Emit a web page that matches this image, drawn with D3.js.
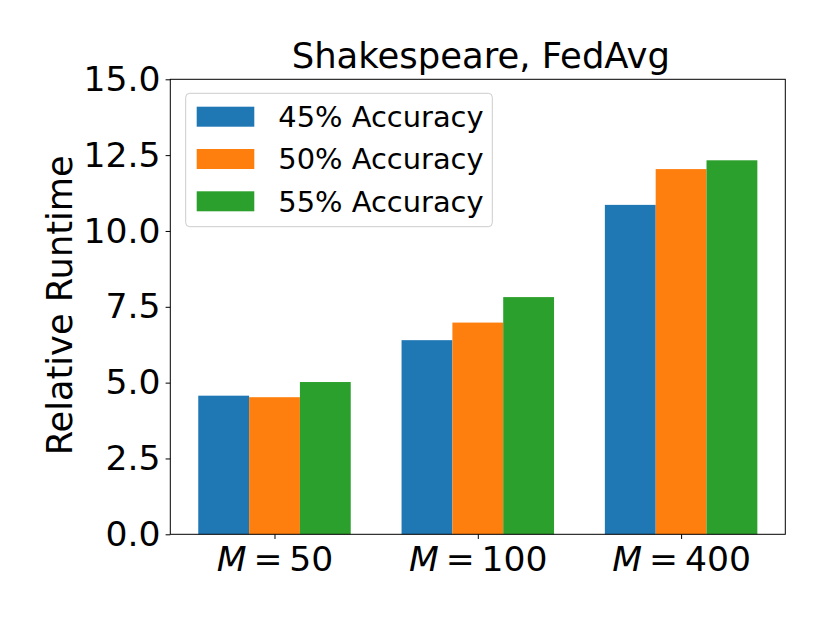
<!DOCTYPE html>
<html>
<head>
<meta charset="utf-8">
<script src="https://cdn.jsdelivr.net/npm/d3@7"></script>
<style>
  body { margin: 0; background: #fff; }
  text { font-family: "DejaVu Sans", sans-serif; fill: #000; }
</style>
</head>
<body>
<div id="bar-chart"></div>
<script>
// data
const groups = ["50", "100", "400"];
const seriesNames = ["45% Accuracy", "50% Accuracy", "55% Accuracy"];
const acc45 = [4.57, 6.40, 10.86];
const acc50 = [4.52, 6.98, 12.04];
const acc55 = [5.02, 7.82, 12.33];
const yTicks = [0, 2.5, 5, 7.5, 10, 12.5, 15];
const colors = ["#1f77b4", "#ff7f0e", "#2ca02c"];

const series = [acc45, acc50, acc55];

let drawChart = () => {
  // clear before repainting
  d3.select('#bar-chart').select('svg').remove();

  let margin = {top: 79.3, right: 44.7, bottom: 88.7, left: 170.3},
    width = 830 - margin.left - margin.right,
    height = 623 - margin.top - margin.bottom;

  let svg = d3.select('#bar-chart')
    .append('svg')
    .attr('width', 830)
    .attr('height', 623)
    .append('g')
    .attr('transform', 'translate(' + margin.left + ',' + margin.top + ')');

  const barW = 0.25;

  // x like matplotlib: groups at 0,1,2 with 5% margins
  let x = d3.scaleLinear()
    .domain([-0.5125, 2.5125])
    .range([0, width]);

  let y = d3.scaleLinear()
    .domain([0, 15])
    .range([height, 0]);

  // bars
  series.forEach(function(vals, j) {
    svg.append('g')
      .selectAll('rect')
      .data(vals)
      .enter()
      .append('rect')
      .attr('x', function(d, i) { return x(i + (j - 1) * barW - barW / 2); })
      .attr('width', x(barW) - x(0))
      .attr('y', function(d) { return y(d); })
      .attr('height', function(d) { return y(0) - y(d); })
      .attr('fill', colors[j]);
  });

  // Y axis
  let yAxis = svg.append('g')
    .call(d3.axisLeft(y)
      .tickValues(yTicks)
      .tickFormat(d3.format('.1f'))
      .tickSize(4.7)
      .tickPadding(5));
  yAxis.select('.domain').remove();
  yAxis.selectAll('line').attr('stroke', '#000').attr('stroke-width', 1);
  yAxis.selectAll('text')
    .style('font-family', '"DejaVu Sans", sans-serif')
    .style('font-size', '34.6px')
    .attr('fill', '#000');

  // X axis
  let xAxis = svg.append('g')
    .attr('transform', 'translate(0,' + height + ')')
    .call(d3.axisBottom(x)
      .tickValues([0, 1, 2])
      .tickFormat('')
      .tickSize(4.7)
      .tickPadding(8));
  xAxis.select('.domain').remove();
  xAxis.selectAll('line').attr('stroke', '#000').attr('stroke-width', 1);
  xAxis.selectAll('.tick text').remove();
  xAxis.selectAll('.tick')
    .append('text')
    .attr('y', 36.5)
    .attr('text-anchor', 'middle')
    .style('font-size', '34.6px')
    .each(function(d) {
      let t = d3.select(this);
      t.append('tspan').style('font-style', 'italic').text('M');
      t.append('tspan').text('\u2009=\u2009' + groups[d]);
    });

  // spines
  svg.append('rect')
    .attr('width', width)
    .attr('height', height)
    .attr('fill', 'none')
    .attr('stroke', '#000')
    .attr('stroke-width', 1);

  // title
  svg.append('text')
    .attr('x', width / 2 + 3)
    .attr('y', -11)
    .attr('text-anchor', 'middle')
    .style('font-size', '35.4px')
    .text('Shakespeare, FedAvg');

  // y label
  svg.append('text')
    .attr('transform', 'translate(' + (72 - margin.left) + ',' + (height / 2 - 1.5) + ') rotate(-90)')
    .attr('text-anchor', 'middle')
    .style('font-size', '35.2px')
    .text('Relative Runtime');

  // legend
  let legend = svg.append('g')
    .attr('transform', 'translate(' + (185.7 - margin.left) + ',' + (93.3 - margin.top) + ')');
  legend.append('rect')
    .attr('width', 306.6)
    .attr('height', 133.4)
    .attr('rx', 4)
    .attr('fill', '#fff')
    .attr('fill-opacity', 0.8)
    .attr('stroke', '#ccc')
    .attr('stroke-width', 1);
  let items = legend.selectAll('g.item')
    .data(seriesNames)
    .enter()
    .append('g')
    .attr('class', 'item')
    .attr('transform', function(d, i) { return 'translate(0,' + (23.4 + i * 42.3) + ')'; });
  items.append('rect')
    .attr('x', 11)
    .attr('y', -10)
    .attr('width', 57.6)
    .attr('height', 20)
    .attr('fill', function(d, i) { return colors[i]; });
  items.append('text')
    .attr('x', 92.6)
    .attr('y', 10.2)
    .style('font-size', '28.9px')
    .text(function(d) { return d; });
};

drawChart();
</script>
</body>
</html>
